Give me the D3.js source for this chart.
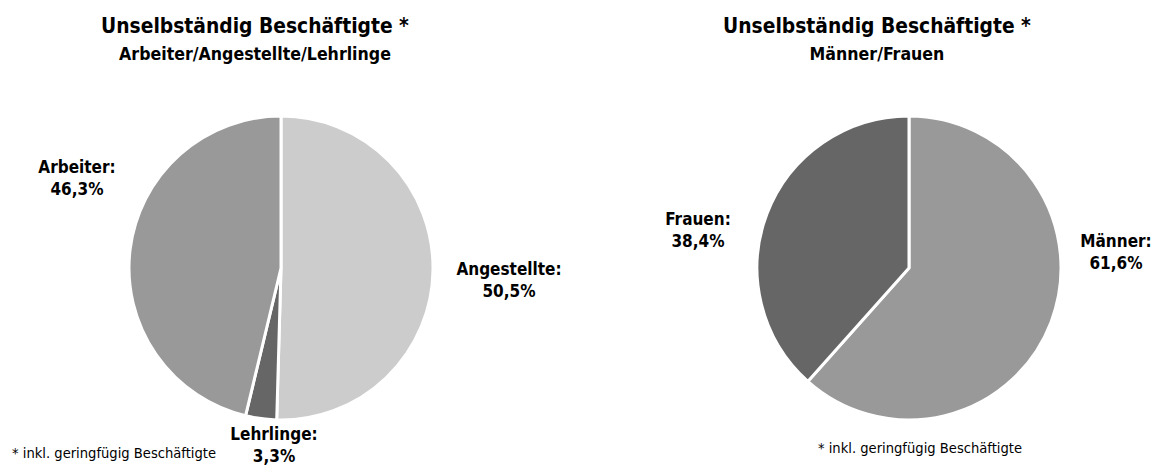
<!DOCTYPE html>
<html><head><meta charset="utf-8">
<script src="https://cdn.jsdelivr.net/npm/d3@7"></script>
<style>
html,body{margin:0;padding:0;background:#fff;}
text{font-family:"DejaVu Sans Condensed","DejaVu Sans",sans-serif;fill:#000;}
</style></head>
<body><svg id="c" width="1154" height="465"></svg>
<script>
// Data
const pie1Categories = ["Angestellte", "Lehrlinge", "Arbeiter"];
const pie1Values = [50.5, 3.3, 46.3];
const pie2Categories = ["Männer", "Frauen"];
const pie2Values = [61.6, 38.4];
const titles = ["Unselbständig Beschäftigte *", "Unselbständig Beschäftigte *"];
const subtitles = ["Arbeiter/Angestellte/Lehrlinge", "Männer/Frauen"];
const footnote = "* inkl. geringfügig Beschäftigte";

// Styling / layout
const pie1Colors = ["#cccccc", "#666666", "#999999"];
const pie2Colors = ["#999999", "#666666"];
const pie1LabelOffsets = [[228, 7], [-7, 172], [-204, -95]];
const pie2LabelOffsets = [[207, -21], [-211, -43]];

const svg = d3.select("#c");
const R = 152;
const fmt = v => d3.format(".1f")(v).replace(".", ",") + "%";

function drawPie(cx, cy, cats, vals, colors, offsets) {
  const g = svg.append("g").attr("transform", `translate(${cx},${cy})`);
  const pie = d3.pie().sort(null).value(d => d.v);
  const data = pie(cats.map((c, i) => ({c, v: vals[i]})));
  const arc = d3.arc().innerRadius(0).outerRadius(R);
  g.selectAll("path").data(data).join("path")
    .attr("d", arc)
    .attr("fill", (d, i) => colors[i])
    .attr("stroke", "#fff").attr("stroke-width", 3).attr("stroke-linejoin", "round");
  const lab = g.selectAll("text.lab").data(data).join("text")
    .attr("class", "lab")
    .attr("text-anchor", "middle")
    .attr("font-weight", "bold").attr("font-size", 17)
    .attr("transform", (d, i) => `translate(${offsets[i][0]},${offsets[i][1]})`);
  lab.append("tspan").attr("x", 0).attr("y", 0).text(d => d.data.c + ":");
  lab.append("tspan").attr("x", 0).attr("y", 22).text(d => fmt(d.data.v));
}

function drawTitle(cx, i) {
  svg.append("text").attr("x", cx).attr("y", 33).attr("text-anchor", "middle")
    .attr("font-weight", "bold").attr("font-size", 20.8).text(titles[i]);
  svg.append("text").attr("x", cx).attr("y", 60).attr("text-anchor", "middle")
    .attr("font-weight", "bold").attr("font-size", 17.6).text(subtitles[i]);
}

drawTitle(255, 0);
drawTitle(877, 1);
drawPie(281, 268, pie1Categories, pie1Values, pie1Colors, pie1LabelOffsets);
drawPie(909, 268, pie2Categories, pie2Values, pie2Colors, pie2LabelOffsets);

svg.append("text").attr("x", 12).attr("y", 458).attr("font-size", 14.6).text(footnote);
svg.append("text").attr("x", 920).attr("y", 453).attr("text-anchor", "middle").attr("font-size", 14.6).text(footnote);
</script></body></html>
